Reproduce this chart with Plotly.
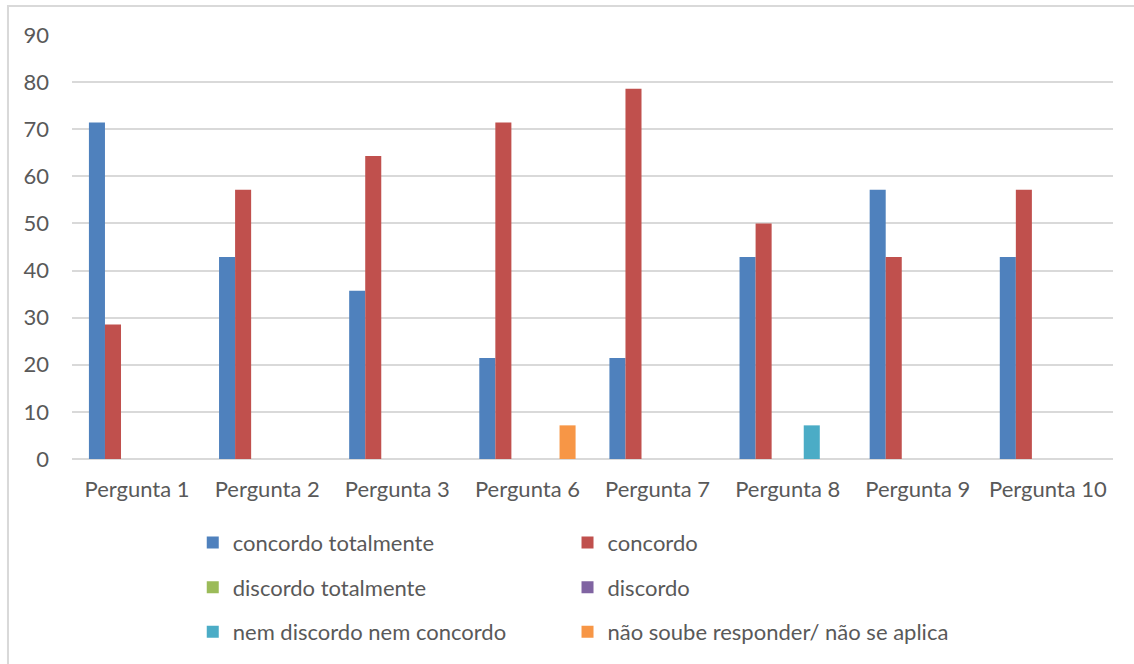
import plotly.graph_objects as go

categories = ["Pergunta 1", "Pergunta 2", "Pergunta 3", "Pergunta 6",
              "Pergunta 7", "Pergunta 8", "Pergunta 9", "Pergunta 10"]

concordo_totalmente = [71.43, 42.86, 35.71, 21.43, 21.43, 42.86, 57.14, 42.86]
concordo = [28.57, 57.14, 64.29, 71.43, 78.57, 50.0, 42.86, 57.14]
discordo_totalmente = [0, 0, 0, 0, 0, 0, 0, 0]
discordo = [0, 0, 0, 0, 0, 0, 0, 0]
nem_discordo_nem_concordo = [0, 0, 0, 0, 0, 7.14, 0, 0]
nao_soube = [0, 0, 0, 7.14, 0, 0, 0, 0]

series = [
    ("concordo totalmente", concordo_totalmente, "#4F81BD", "legend"),
    ("concordo", concordo, "#C0504D", "legend2"),
    ("discordo totalmente", discordo_totalmente, "#9BBB59", "legend"),
    ("discordo", discordo, "#8064A2", "legend2"),
    ("nem discordo nem concordo", nem_discordo_nem_concordo, "#4BACC6", "legend"),
    ("não soube responder/ não se aplica", nao_soube, "#F79646", "legend2"),
]

FONT = "Lato, Open Sans, sans-serif"
TEXT = "#595959"
GRID = "#D9D9D9"

fig = go.Figure()
for i, (name, vals, color, leg) in enumerate(series):
    fig.add_trace(go.Bar(
        x=categories, y=vals, name=name, marker_color=color,
        marker_line_width=0, legend=leg, legendgroup=f"g{i}",
    ))

legend_style = dict(
    orientation="v", xanchor="left", yanchor="top",
    font=dict(family=FONT, size=22, color=TEXT),
    bgcolor="rgba(0,0,0,0)", tracegroupgap=13, itemwidth=30,
    traceorder="grouped",
)

fig.update_layout(
    width=1134, height=664,
    margin=dict(l=72, r=21, t=35, b=205, autoexpand=False),
    paper_bgcolor="white", plot_bgcolor="white",
    barmode="group", bargap=0.26, bargroupgap=0,
    font=dict(family=FONT, color=TEXT, size=22),
    xaxis=dict(showgrid=False, showline=False, ticks="", automargin=False,
               ticklabelstandoff=15,
               tickfont=dict(size=22, color=TEXT), fixedrange=True),
    yaxis=dict(range=[0, 90], dtick=10, showgrid=True, gridcolor=GRID,
               gridwidth=1.5, zeroline=True, zerolinecolor=GRID,
               zerolinewidth=1.5, showline=False, ticks="", automargin=False,
               ticklabelstandoff=22, tickfont=dict(size=22, color=TEXT)),
    legend=dict(x=0.116, y=-0.148, **legend_style),
    legend2=dict(x=0.476, y=-0.148, **legend_style),
    shapes=[dict(type="rect", xref="paper", yref="paper",
                 x0=-0.0615, y0=-1.0, x1=1.5, y1=1.0684,
                 line=dict(color=GRID, width=2), fillcolor="rgba(0,0,0,0)",
                 layer="below")],
)

fig.write_html("out.html")
